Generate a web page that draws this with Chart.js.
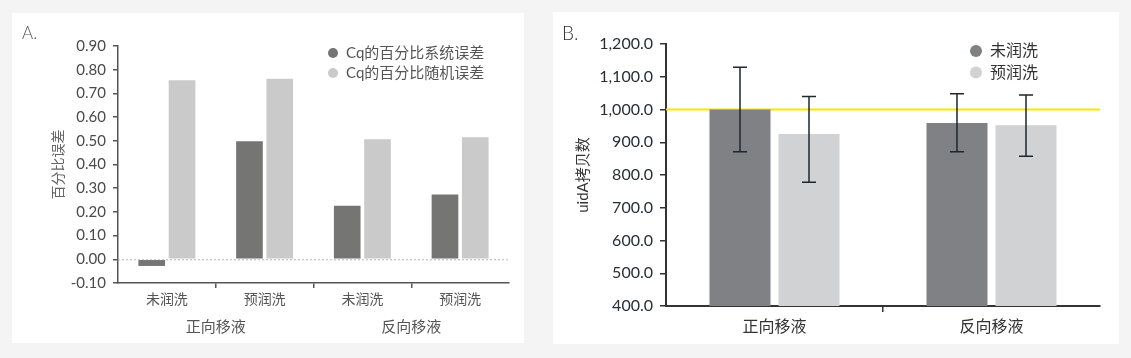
<!DOCTYPE html>
<html>
<head>
<meta charset="utf-8">
<script src="https://cdn.jsdelivr.net/npm/chart.js@4.4.1/dist/chart.umd.min.js"></script>
<style>
  body { margin: 0; width: 1131px; height: 358px; background: #f4f4f4; position: relative; overflow: hidden; }
  .panel { position: absolute; background: #fff; }
  .panel canvas { display: block; }
  .tag { position: absolute; font-family: Lato, sans-serif; font-weight: 300; line-height: 1.2; }
</style>
</head>
<body>
<div class="panel" style="left:12px;top:13px;width:512px;height:330px">
  <canvas id="chartA" width="512" height="330"></canvas>
  <div class="tag" style="left:10px;top:10px;font-size:17px;color:#555">A.</div>
</div>
<div class="panel" style="left:553px;top:12px;width:566px;height:332px">
  <canvas id="chartB" width="566" height="332"></canvas>
  <div class="tag" style="left:9px;top:10px;font-size:19px;color:#333">B.</div>
</div>
<script>
// panel A
const rinseLabels = ['未润洗', '预润洗', '未润洗', '预润洗'];
const pipetteGroups = ['正向移液', '反向移液'];
const systematicPct = [-0.028, 0.498, 0.226, 0.273];
const randomPct = [0.755, 0.762, 0.507, 0.515];
const pctTicks = [-0.1, 0, 0.1, 0.2, 0.3, 0.4, 0.5, 0.6, 0.7, 0.8, 0.9];

// panel B
const pipetteModes = ['正向移液', '反向移液'];
const unrinsedCopies = [1000, 959];
const unrinsedHigh = [1129, 1048];
const unrinsedLow = [871, 871];
const prerinsedCopies = [925, 952];
const prerinsedHigh = [1040, 1044];
const prerinsedLow = [778, 857];
const copyTicks = [400, 500, 600, 700, 800, 900, 1000, 1100, 1200];
const expectedCopies = 1000;

const CJK = 'Lato, "Noto Sans CJK SC", sans-serif';

function drawLegend(chart, x, y0, step, r, size, color) {
  const ctx = chart.ctx;
  ctx.save();
  ctx.font = size + 'px ' + CJK;
  ctx.textBaseline = 'middle';
  chart.data.datasets.forEach((ds, i) => {
    const y = y0 + i * step;
    ctx.fillStyle = ds.backgroundColor;
    ctx.beginPath();
    ctx.arc(x, y, r, 0, Math.PI * 2);
    ctx.fill();
    ctx.fillStyle = color;
    ctx.fillText(ds.label, x + r + 8, y);
  });
  ctx.restore();
}

const zeroLine = {
  id: 'zeroLine',
  beforeDatasetsDraw(chart) {
    const { ctx, chartArea } = chart;
    const y = chart.scales.y.getPixelForValue(0);
    ctx.save();
    ctx.strokeStyle = '#b5b5b5';
    ctx.lineWidth = 1;
    ctx.setLineDash([2, 2]);
    ctx.beginPath();
    ctx.moveTo(chartArea.left, y + 0.5);
    ctx.lineTo(chartArea.right, y + 0.5);
    ctx.stroke();
    ctx.restore();
  },
  afterDraw(chart) {
    drawLegend(chart, chart.chartArea.left + 215, 40, 20, 5, 15, '#555');
  }
};

const tickEdge = (color) => (c) => (c.index > 0 ? color : 'rgba(0,0,0,0)');

new Chart(document.getElementById('chartA'), {
  type: 'bar',
  data: {
    labels: rinseLabels,
    datasets: [
      { label: 'Cq的百分比系统误差', data: systematicPct, backgroundColor: '#757674', xAxisID: 'x' },
      { label: 'Cq的百分比随机误差', data: randomPct, backgroundColor: '#cacaca', xAxisID: 'x' }
    ]
  },
  options: {
    responsive: false,
    animation: false,
    categoryPercentage: 0.62,
    barPercentage: 0.88,
    layout: { padding: { top: 33, right: 15, left: 0, bottom: 0 } },
    plugins: { legend: { display: false }, tooltip: { enabled: false } },
    scales: {
      x: {
        grid: { offset: true, drawOnChartArea: false, tickLength: 5, lineWidth: 1.5, color: tickEdge('#555') },
        border: { color: '#555', width: 1.5 },
        ticks: { color: '#555', padding: 3, font: { family: CJK, size: 14 } },
        afterFit: (s) => { s.height = 26; }
      },
      x2: {
        type: 'category',
        labels: pipetteGroups,
        position: 'bottom',
        offset: true,
        grid: { display: false, drawTicks: false },
        border: { display: false },
        ticks: { color: '#555', padding: 9, font: { family: CJK, size: 15 } },
        afterFit: (s) => { s.height = 34; }
      },
      y: {
        min: -0.1,
        max: 0.9,
        afterBuildTicks: (s) => { s.ticks = pctTicks.map(v => ({ value: v })); },
        grid: { drawOnChartArea: false, tickLength: 5, color: '#555', lineWidth: 1.5 },
        border: { color: '#555', width: 1.5 },
        ticks: { color: '#4a4a4a', padding: 7, font: { family: CJK, size: 15 }, callback: (v) => v.toFixed(2) },
        title: { display: true, text: '百分比误差', color: '#666', padding: { top: 38, bottom: 0 }, font: { family: CJK, size: 14 } },
        afterFit: (s) => { s.width = 106; }
      }
    }
  },
  plugins: [zeroLine]
});

const copyMarks = {
  id: 'copyMarks',
  beforeDatasetsDraw(chart) {
    const { ctx, chartArea } = chart;
    const y = chart.scales.y.getPixelForValue(expectedCopies);
    ctx.save();
    ctx.strokeStyle = '#f7e600';
    ctx.lineWidth = 2;
    ctx.beginPath();
    ctx.moveTo(chartArea.left, y);
    ctx.lineTo(chartArea.right, y);
    ctx.stroke();
    ctx.restore();
  },
  afterDatasetsDraw(chart) {
    const ctx = chart.ctx;
    const yS = chart.scales.y;
    ctx.save();
    ctx.strokeStyle = '#1e272e';
    ctx.lineWidth = 1.5;
    chart.data.datasets.forEach((ds, i) => {
      chart.getDatasetMeta(i).data.forEach((bar, j) => {
        const top = yS.getPixelForValue(ds.errHigh[j]);
        const bot = yS.getPixelForValue(ds.errLow[j]);
        ctx.beginPath();
        ctx.moveTo(bar.x, top); ctx.lineTo(bar.x, bot);
        ctx.moveTo(bar.x - 7, top); ctx.lineTo(bar.x + 7, top);
        ctx.moveTo(bar.x - 7, bot); ctx.lineTo(bar.x + 7, bot);
        ctx.stroke();
      });
    });
    ctx.restore();
  },
  afterDraw(chart) {
    drawLegend(chart, chart.chartArea.left + 310, 39, 21.5, 6, 16, '#333');
  }
};

new Chart(document.getElementById('chartB'), {
  type: 'bar',
  data: {
    labels: pipetteModes,
    datasets: [
      { label: '未润洗', data: unrinsedCopies, errHigh: unrinsedHigh, errLow: unrinsedLow, backgroundColor: '#808184' },
      { label: '预润洗', data: prerinsedCopies, errHigh: prerinsedHigh, errLow: prerinsedLow, backgroundColor: '#d1d2d4' }
    ]
  },
  options: {
    responsive: false,
    animation: false,
    categoryPercentage: 0.636,
    barPercentage: 0.884,
    layout: { padding: { top: 32, right: 19, left: 0, bottom: 0 } },
    plugins: { legend: { display: false }, tooltip: { enabled: false } },
    scales: {
      x: {
        grid: { offset: true, drawOnChartArea: false, tickLength: 6, lineWidth: 1.5, color: tickEdge('#333') },
        border: { color: '#333', width: 2 },
        ticks: { color: '#333', padding: 5, font: { family: CJK, size: 16 } },
        afterFit: (s) => { s.height = 38; }
      },
      y: {
        min: 400,
        max: 1200,
        afterBuildTicks: (s) => { s.ticks = copyTicks.map(v => ({ value: v })); },
        grid: { drawOnChartArea: false, tickLength: 6, color: '#333', lineWidth: 1.5 },
        border: { color: '#333', width: 2 },
        ticks: {
          color: '#2b2d36', padding: 7, font: { family: CJK, size: 16 },
          callback: (v) => v.toLocaleString('en-US', { minimumFractionDigits: 1, maximumFractionDigits: 1 })
        },
        title: { display: true, text: 'uidA拷贝数', color: '#333', padding: { top: 21, bottom: 0 }, font: { family: CJK, size: 15 } },
        afterFit: (s) => { s.width = 113; }
      }
    }
  },
  plugins: [copyMarks]
});
</script>
</body>
</html>
